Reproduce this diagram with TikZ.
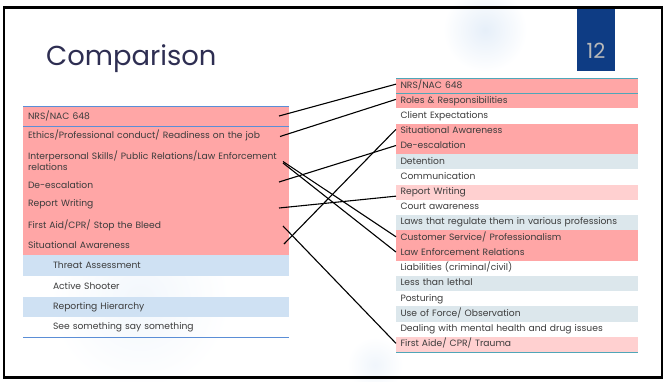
\documentclass[tikz,border=0pt]{standalone}
\usepackage{fontspec}
\setmainfont{Poppins}
\usetikzlibrary{calc}
\definecolor{pinkA}{HTML}{FFA6A6}
\definecolor{pinkB}{HTML}{FFD0D0}
\definecolor{blueL}{HTML}{CFE1F3}
\definecolor{grayB}{HTML}{DCE7EC}
\definecolor{lineB}{HTML}{5B8ED6}
\definecolor{tealL}{HTML}{4FA6B8}
\definecolor{navyB}{HTML}{0E3C84}
\definecolor{txtC}{HTML}{3C3C3C}
\definecolor{ttlC}{HTML}{2E2E52}
\definecolor{glowC}{HTML}{E6EFF9}
\begin{document}
\begin{tikzpicture}[x=1bp,y=-1bp,
  itemfont/.style={font=\fontsize{9.2}{11}\selectfont},
  lrow/.style={rectangle, anchor=north west, outer sep=0pt, minimum width=266bp, inner xsep=5bp, inner ysep=0bp,
    text width=256bp, align=left, itemfont, text=txtC},
  lsub/.style={lrow, inner xsep=30bp, text width=206bp},
  rrow/.style={rectangle, anchor=north west, outer sep=0pt, minimum width=242bp, minimum height=15.22bp, inner xsep=4.5bp, inner ysep=0bp,
    text height=6.8bp, text depth=2bp, text width=233bp, align=left, itemfont, text=txtC},
  link/.style={black, line width=1.1bp}]
\useasboundingbox (0,0) rectangle (667,381);
\fill[white] (0,0) rectangle (667,381);
% faint glows
\shade[inner color=glowC, outer color=white] (485,30) circle (42);
\shade[inner color=glowC!60, outer color=white] (375,365) circle (28);
\shade[inner color=glowC!50, outer color=white] (140,300) circle (90);
% slide frame
\draw[black, line width=2.2bp] (4,7.5) rectangle (662,377.5);
% page number box
\node[rectangle, fill=navyB, anchor=north west, minimum width=38bp, minimum height=62bp, inner sep=0] (pg) at (577,8.6) {};
\node[text=gray!55, font=\fontsize{21}{21}\selectfont] (pgn) at (596,51) {12};
% title
\node[anchor=base west, inner sep=0, text=ttlC, font=\fontsize{27.5}{28}\selectfont] (title) at (46,65.5) {Comparison};
% left table
\node[lrow, fill=pinkA, minimum height=20bp] (L1) at (23,106) {NRS/NAC 648};
\node[lrow, fill=pinkA, minimum height=19bp] (L2) at (23,126) {Ethics/Professional conduct/ Readiness on the job};
\node[lrow, fill=pinkA, minimum height=31bp] (L3) at (23,145) {Interpersonal Skills/ Public Relations/Law Enforcement\\relations};
\node[lrow, fill=pinkA, minimum height=18bp] (L4) at (23,176) {De-escalation};
\node[lrow, fill=pinkA, minimum height=21bp] (L5) at (23,194) {Report Writing};
\node[lrow, fill=pinkA, minimum height=20bp] (L6) at (23,215) {First Aid/CPR/ Stop the Bleed};
\node[lrow, fill=pinkA, minimum height=20bp] (L7) at (23,235) {Situational Awareness};
\node[lsub, fill=blueL, minimum height=21bp] (L8) at (23,255) {Threat Assessment};
\node[lsub, minimum height=21bp] (L9) at (23,276) {Active Shooter};
\node[lsub, fill=blueL, minimum height=20bp] (L10) at (23,297) {Reporting Hierarchy};
\node[lsub, minimum height=20bp] (L11) at (23,317) {See something say something};
\draw[lineB, line width=0.9bp] (L1.north west) -- (L1.north east);
\draw[lineB, line width=0.9bp] (L1.south west) -- (L1.south east);
\draw[lineB, line width=0.9bp] (L11.south west) -- (L11.south east);
% right table
\node[rrow, fill=pinkA] (R1) at (396,78) {NRS/NAC 648};
\node[rrow, fill=pinkA] (R2) at (R1.south west) {Roles \& Responsibilities};
\node[rrow] (R3) at (R2.south west) {Client Expectations};
\node[rrow, fill=pinkA] (R4) at (R3.south west) {Situational Awareness};
\node[rrow, fill=pinkA] (R5) at (R4.south west) {De-escalation};
\node[rrow, fill=grayB] (R6) at (R5.south west) {Detention};
\node[rrow] (R7) at (R6.south west) {Communication};
\node[rrow, fill=pinkB] (R8) at (R7.south west) {Report Writing};
\node[rrow] (R9) at (R8.south west) {Court awareness};
\node[rrow, fill=grayB] (R10) at (R9.south west) {Laws that regulate them in various professions};
\node[rrow, fill=pinkA] (R11) at (R10.south west) {Customer Service/ Professionalism};
\node[rrow, fill=pinkA] (R12) at (R11.south west) {Law Enforcement Relations};
\node[rrow] (R13) at (R12.south west) {Liabilities (criminal/civil)};
\node[rrow, fill=grayB] (R14) at (R13.south west) {Less than lethal};
\node[rrow] (R15) at (R14.south west) {Posturing};
\node[rrow, fill=grayB] (R16) at (R15.south west) {Use of Force/ Observation};
\node[rrow] (R17) at (R16.south west) {Dealing with mental health and drug issues};
\node[rrow, fill=pinkB] (R18) at (R17.south west) {First Aide/ CPR/ Trauma};
\draw[tealL, line width=0.9bp] (R1.north west) -- (R1.north east);
\draw[tealL, line width=0.9bp] (R1.south west) -- (R1.south east);
\draw[tealL, line width=0.9bp] (R18.south west) -- (R18.south east);
% connectors
\draw[link] ([shift={(-10,0)}]L1.east) -- ([shift={(0,-1.5)}]R1.west);
\draw[link] ([shift={(-9,1)}]L2.east) -- ([shift={(0,-1.5)}]R2.west);
\draw[link] ([shift={(-6,1)}]L3.east) -- ([shift={(0,-1)}]R11.west);
\draw[link] ([shift={(-6,2.5)}]L3.east) -- ([shift={(0,-1)}]R12.west);
\draw[link] ([shift={(-10,-3)}]L4.east) -- ([shift={(0,-1)}]R5.west);
\draw[link] ([shift={(-10,3.5)}]L5.east) -- ([shift={(0,4)}]R8.west);
\draw[link] ([shift={(-6,1)}]L6.east) -- ([shift={(0,-1)}]R18.west);
\draw[link] ([shift={(-5,-1)}]L7.east) -- ([shift={(0,-2)}]R4.west);
\end{tikzpicture}
\end{document}
